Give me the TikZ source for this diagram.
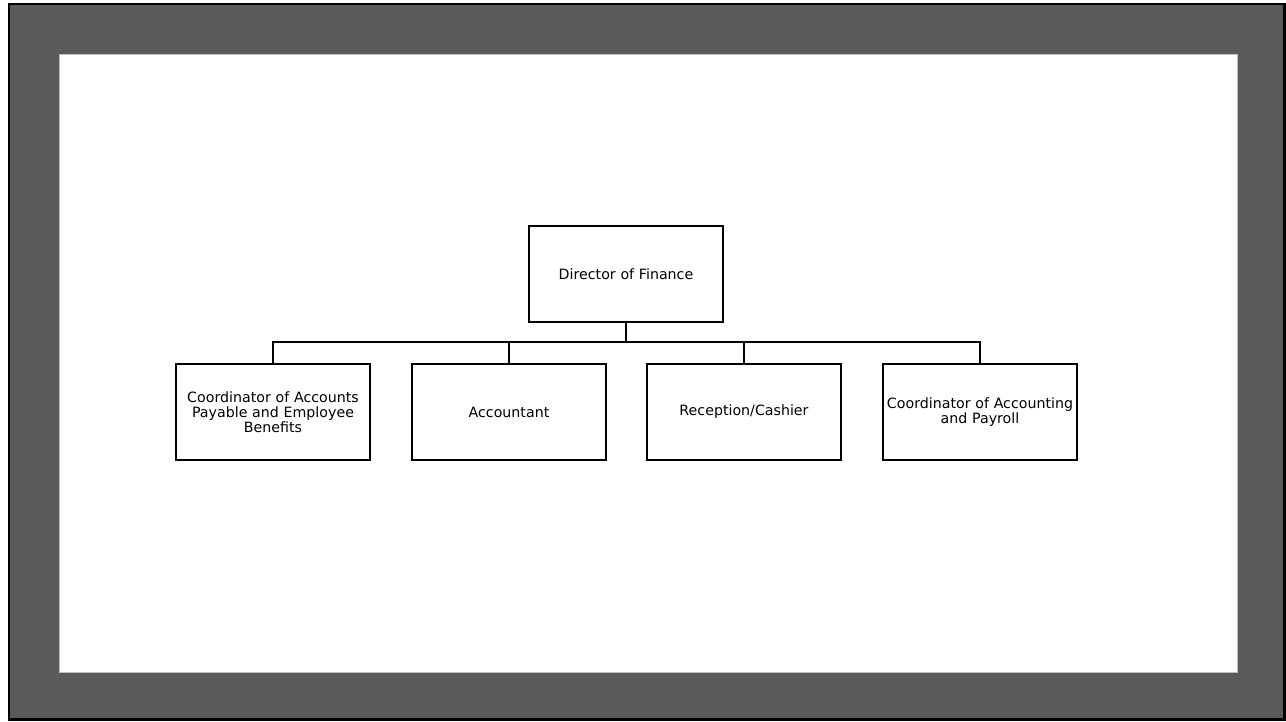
\documentclass[tikz,border=0pt]{standalone}
\usepackage{fontspec}
\setmainfont{DejaVu Sans}
\definecolor{framegray}{RGB}{90,90,90}
\definecolor{edgegray}{RGB}{190,190,190}
\tikzset{
  orgbox/.style={draw=black, line width=2pt, fill=white, minimum width=194pt,
    minimum height=96pt, inner sep=2pt, align=center, text width=190pt,
    font=\fontsize{14.2}{15.2}\selectfont},
  link/.style={draw=black, line width=2pt},
}
\begin{document}
\begin{tikzpicture}[x=1pt, y=-1pt]
  % page area and frame
  \useasboundingbox (0,0) rectangle (1286,721);
  \fill[white] (0,0) rectangle (1286,721);
  \filldraw[fill=framegray, draw=black, line width=2.2pt] (9,4) rectangle (1284.5,719.5);
  \filldraw[fill=white, draw=edgegray, line width=0.8pt] (59,54) rectangle (1237.5,672);

  % chart nodes
  \node[orgbox] (dir) at (626,274) {Director of Finance};
  \node[orgbox] (c1) at (273,412) {Coordinator of Accounts\\Payable and Employee\\Benefits};
  \node[orgbox] (c2) at (509,412) {Accountant};
  \node[orgbox] (c3) at (744,412) {Reception/Cashier};
  \node[orgbox] (c4) at (980,412) {Coordinator of Accounting\\and Payroll};

  % connectors
  \coordinate (bus) at (626,342);
  \draw[link] (dir.south) -- (bus);
  \draw[link] (c1.north) |- (bus) -| (c4.north);
  \draw[link] (c2.north) -- (c2.north |- bus);
  \draw[link] (c3.north) -- (c3.north |- bus);
\end{tikzpicture}
\end{document}
